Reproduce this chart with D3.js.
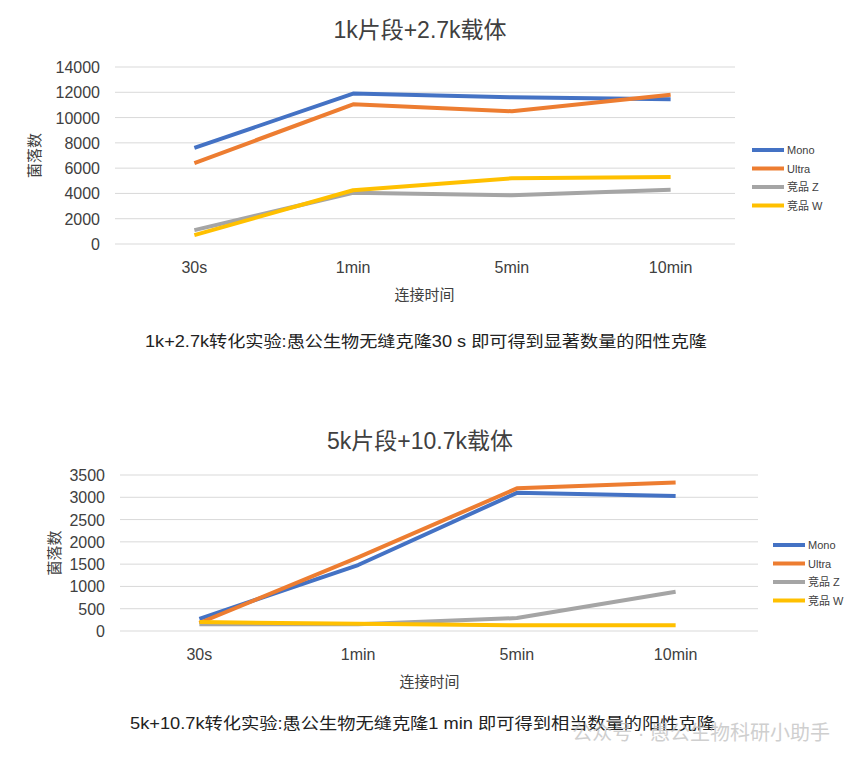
<!DOCTYPE html>
<html><head><meta charset="utf-8">
<script src="https://cdn.jsdelivr.net/npm/d3@7"></script>
<style>body{margin:0;background:#fff;font-family:"Liberation Sans","Noto Sans CJK SC",sans-serif;}</style>
</head><body><div id="chart"></div>
<script>
var categories = ["30s", "1min", "5min", "10min"];
var seriesNames = ["Mono", "Ultra", "竞品 Z", "竞品 W"];
var colors = ["#4472c4", "#ed7d31", "#a5a5a5", "#ffc000"];
var topTicks = [0, 2000, 4000, 6000, 8000, 10000, 12000, 14000];
var topValues = [
    [7600, 11900, 11600, 11450],
    [6400, 11050, 10500, 11800],
    [1100, 4050, 3850, 4300],
    [700, 4250, 5200, 5300]
];
var bottomTicks = [0, 500, 1000, 1500, 2000, 2500, 3000, 3500];
var bottomValues = [
    [270, 1480, 3100, 3030],
    [180, 1650, 3200, 3330],
    [150, 150, 290, 880],
    [200, 160, 130, 130]
];

var svg = d3.select("#chart").append("svg").attr("width", 858).attr("height", 765);

function drawChart(cfg) {
    var x = d3.scalePoint().domain(categories).range([cfg.x0, cfg.x1]).padding(0.5);
    var y = d3.scaleLinear().domain([0, d3.max(cfg.ticks)]).range([cfg.y0, cfg.y1]);
    var g = svg.append("g");

    g.append("text").attr("x", 420).attr("y", cfg.titleY).attr("text-anchor", "middle")
        .attr("font-size", 23).attr("fill", "#404040").text(cfg.title);

    g.selectAll(".grid").data(cfg.ticks).enter().append("line")
        .attr("x1", cfg.x0).attr("x2", cfg.gridEnd)
        .attr("y1", d => y(d)).attr("y2", d => y(d))
        .attr("stroke", "#d9d9d9").attr("stroke-width", 1);

    g.selectAll(".yt").data(cfg.ticks).enter().append("text")
        .attr("x", cfg.x0 - 15).attr("y", d => y(d) + 6).attr("text-anchor", "end")
        .attr("font-size", 16).attr("fill", "#404040").text(d => d);

    g.selectAll(".xt").data(categories).enter().append("text")
        .attr("x", d => x(d)).attr("y", cfg.y0 + 29).attr("text-anchor", "middle")
        .attr("font-size", 16).attr("fill", "#404040").text(d => d);

    g.append("text").attr("x", (cfg.x0 + cfg.x1) / 2 - 8).attr("y", cfg.y0 + 56).attr("text-anchor", "middle")
        .attr("font-size", 15).attr("fill", "#404040").text("连接时间");

    g.append("text").attr("transform", `translate(${cfg.yLabelX}, ${(cfg.y0 + cfg.y1) / 2}) rotate(-90)`)
        .attr("text-anchor", "middle").attr("font-size", 15).attr("fill", "#404040").text("菌落数");

    var line = d3.line().x((d, i) => x(categories[i])).y(d => y(d));
    cfg.values.forEach(function (vals, i) {
        g.append("path").attr("d", line(vals)).attr("fill", "none")
            .attr("stroke", colors[i]).attr("stroke-width", 4).attr("stroke-linejoin", "round");
    });

    seriesNames.forEach(function (n, i) {
        var ly = cfg.legY + i * 18.5;
        g.append("line").attr("x1", cfg.legX).attr("x2", cfg.legX + 32).attr("y1", ly).attr("y2", ly)
            .attr("stroke", colors[i]).attr("stroke-width", 4);
        g.append("text").attr("x", cfg.legX + 35).attr("y", ly + 4).attr("font-size", 11)
            .attr("fill", "#404040").text(n);
    });

    g.append("text").attr("x", cfg.capX0).attr("y", cfg.capY)
        .attr("textLength", cfg.capW).attr("lengthAdjust", "spacingAndGlyphs")
        .attr("font-size", 16).attr("fill", "#222").text(cfg.caption);
}

drawChart({
    title: "1k片段+2.7k载体", titleY: 38, ticks: topTicks, values: topValues,
    x0: 115, x1: 750, gridEnd: 735, y0: 244, y1: 67, yLabelX: 40,
    legX: 752, legY: 150, capX0: 145, capW: 562, capY: 347,
    caption: "1k+2.7k转化实验:愚公生物无缝克隆30 s 即可得到显著数量的阳性克隆"
});
drawChart({
    title: "5k片段+10.7k载体", titleY: 449, ticks: bottomTicks, values: bottomValues,
    x0: 120, x1: 755, gridEnd: 758, y0: 631, y1: 475, yLabelX: 60,
    legX: 773, legY: 545, capX0: 130, capW: 585, capY: 729,
    caption: "5k+10.7k转化实验:愚公生物无缝克隆1 min 即可得到相当数量的阳性克隆"
});

svg.append("text").attr("x", 830).attr("y", 740).attr("text-anchor", "end")
    .attr("font-size", 20).attr("fill", "#bbb").attr("opacity", 0.7).text("公众号 · 愚公生物科研小助手");
</script></body></html>
